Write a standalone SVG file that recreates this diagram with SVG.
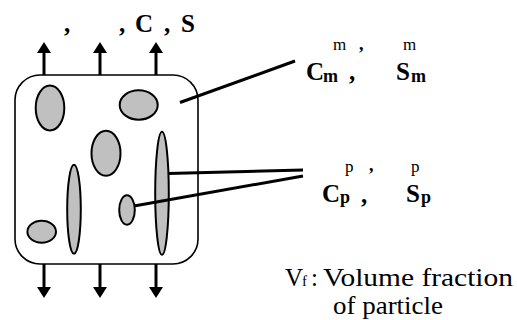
<svg xmlns="http://www.w3.org/2000/svg" width="517" height="320" viewBox="0 0 517 320">
<style>
.box{fill:#fff;stroke:#000;stroke-width:1.6}
.p{fill:#c0c0c0;stroke:#000;stroke-width:2}
.ln{stroke:#000;stroke-width:3;fill:none}
.ah{fill:#000}
.b{font-weight:bold;font-size:25px}
.s{font-size:17px}
.sb{font-weight:bold;font-size:18px}
.r{font-size:25px}
</style>
<defs>
<g id="up"><line class="ln" x1="0" y1="0" x2="0" y2="-24"/><polygon class="ah" points="-7,-22 7,-22 0,-33"/></g>
<g id="down"><line class="ln" x1="0" y1="0" x2="0" y2="25"/><polygon class="ah" points="-7,23 7,23 0,34"/></g>
</defs>
<g id="connectors">
<use href="#up" x="44" y="75"/>
<use href="#up" x="100" y="75"/>
<use href="#up" x="156" y="75"/>
<use href="#down" x="44" y="264"/>
<use href="#down" x="100" y="264"/>
<use href="#down" x="156" y="264"/>
</g>
<g id="matrix">
<rect class="box" x="15" y="75" width="183" height="189" rx="25"/>
</g>
<g id="particles">
<ellipse class="p" cx="50" cy="108" rx="14.3" ry="22.5"/>
<ellipse class="p" cx="138.7" cy="105" rx="19" ry="14.7"/>
<ellipse class="p" cx="106" cy="153.3" rx="14.5" ry="22.5"/>
<ellipse class="p" cx="74" cy="209.3" rx="6.8" ry="44.5"/>
<ellipse class="p" cx="127" cy="210" rx="7.8" ry="14.7"/>
<ellipse class="p" cx="162" cy="193.3" rx="6.8" ry="61.5"/>
<ellipse class="p" cx="41.7" cy="231.7" rx="14.3" ry="11"/>
</g>
<g id="leaders">
<line class="ln" x1="180" y1="102.5" x2="295" y2="61"/>
<line class="ln" x1="168" y1="173.5" x2="303" y2="170"/>
<line class="ln" x1="134" y1="206" x2="303" y2="176"/>
</g>
<g font-family="Liberation Serif, serif" fill="#000">
<g id="top-label">
<text class="b" y="32"><tspan x="64">,</tspan><tspan x="119">,</tspan><tspan x="135">C</tspan><tspan x="164">,</tspan><tspan x="181">S</tspan></text>
</g>
<g id="matrix-label">
<text class="s" y="50"><tspan x="333">m</tspan></text>
<text class="sb" y="50"><tspan x="359">,</tspan></text>
<text class="s" y="50"><tspan x="403">m</tspan></text>
<text class="b" y="80"><tspan x="306">C</tspan><tspan class="sb" x="323" dy="2">m</tspan><tspan x="349" dy="-2">,</tspan><tspan x="396">S</tspan><tspan class="sb" x="411" dy="2">m</tspan></text>
</g>
<g id="particle-label">
<text class="s" y="172"><tspan x="345">p</tspan></text>
<text class="sb" y="171"><tspan x="369">,</tspan></text>
<text class="s" y="172"><tspan x="411">p</tspan></text>
<text class="b" y="202"><tspan x="322">C</tspan><tspan class="sb" x="340" dy="1">p</tspan><tspan x="361" dy="0">,</tspan><tspan x="406" dy="-1">S</tspan><tspan class="sb" x="421" dy="1">p</tspan></text>
</g>
<g id="vf-label">
<text class="r" y="286"><tspan x="285">V</tspan><tspan font-size="15" x="302">f</tspan><tspan x="311">:</tspan><tspan x="323" textLength="190" lengthAdjust="spacingAndGlyphs">Volume fraction</tspan></text>
<text class="r" x="333" y="314" textLength="110" lengthAdjust="spacingAndGlyphs">of particle</text>
</g>
</g>
</svg>
